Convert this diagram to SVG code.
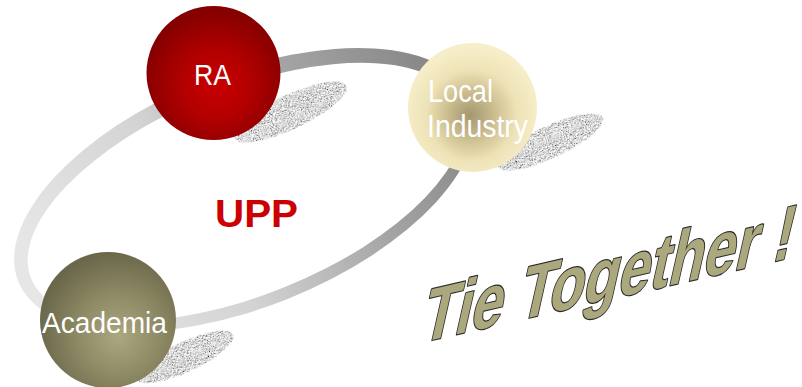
<svg xmlns="http://www.w3.org/2000/svg" width="802" height="387" viewBox="0 0 802 387">
<defs>
  <style>
    .lbl { font-family: "Liberation Sans", Arial, sans-serif; fill: #ffffff; }
    .shadow { fill: #000000; filter: url(#speckle); }
  </style>
  <linearGradient id="ringGrad" gradientUnits="userSpaceOnUse" x1="-213" y1="33" x2="230" y2="-47">
    <stop offset="0" stop-color="#e6e6e6"/>
    <stop offset="0.35" stop-color="#d4d4d4"/>
    <stop offset="0.7" stop-color="#a4a4a4"/>
    <stop offset="1" stop-color="#858585"/>
  </linearGradient>
  <radialGradient id="gRA" cx="0.52" cy="0.58" r="0.55" fx="0.52" fy="0.6">
    <stop offset="0" stop-color="#c80000"/>
    <stop offset="0.45" stop-color="#b30000"/>
    <stop offset="1" stop-color="#850000"/>
  </radialGradient>
  <radialGradient id="gLI" cx="0.5" cy="0.56" r="0.52" fx="0.48" fy="0.56">
    <stop offset="0" stop-color="#a49670"/>
    <stop offset="0.35" stop-color="#cbbd8e"/>
    <stop offset="0.68" stop-color="#eee3b7"/>
    <stop offset="1" stop-color="#f6eec8"/>
  </radialGradient>
  <radialGradient id="gAC" cx="0.58" cy="0.6" r="0.6" fx="0.58" fy="0.62">
    <stop offset="0" stop-color="#aba77f"/>
    <stop offset="0.5" stop-color="#8e8a65"/>
    <stop offset="1" stop-color="#6a674b"/>
  </radialGradient>
  <filter id="speckle" x="0" y="0" width="1" height="1">
    <feTurbulence type="fractalNoise" baseFrequency="0.95" numOctaves="2" seed="7" result="noise"/>
    <feColorMatrix in="noise" type="matrix" result="gray"
      values="2.6 0 0 0 -0.6  2.6 0 0 0 -0.6  2.6 0 0 0 -0.6  0 0 0 0 1"/>
    <feComposite in="gray" in2="SourceGraphic" operator="in"/>
  </filter>
</defs>
<rect width="802" height="387" fill="#ffffff"/>

<g id="connectors">
  <path transform="translate(245,190) rotate(-22)" fill="url(#ringGrad)" fill-rule="evenodd"
    d="M -244.5 0 A 244.5 117 0 1 0 244.5 0 A 244.5 117 0 1 0 -244.5 0 Z M -231.5 2 A 231.5 103 0 1 0 231.5 2 A 231.5 103 0 1 0 -231.5 2 Z"/>
</g>

<g id="shadows">
  <ellipse class="shadow" cx="290" cy="112" rx="62" ry="17" transform="rotate(-25 290 112)"/>
  <ellipse class="shadow" cx="550" cy="142" rx="58" ry="16" transform="rotate(-25 550 142)"/>
  <ellipse class="shadow" cx="185" cy="357" rx="53" ry="15" transform="rotate(-25 185 357)"/>
</g>

<g id="node-ra">
  <circle cx="213.5" cy="73" r="67" fill="url(#gRA)"/>
  <text class="lbl" x="194" y="85" font-size="30" textLength="37" lengthAdjust="spacingAndGlyphs">RA</text>
</g>

<g id="node-local-industry">
  <circle cx="472.5" cy="107.5" r="64.5" fill="url(#gLI)"/>
  <text class="lbl" x="428" y="102" font-size="31" textLength="65" lengthAdjust="spacingAndGlyphs">Local</text>
  <text class="lbl" x="427" y="137" font-size="31" textLength="101" lengthAdjust="spacingAndGlyphs">Industry</text>
</g>

<g id="node-academia">
  <circle cx="108" cy="320" r="68" fill="url(#gAC)"/>
  <text class="lbl" x="42" y="333" font-size="30" textLength="125" lengthAdjust="spacingAndGlyphs">Academia</text>
</g>

<g id="label-upp">
  <text x="215" y="227" font-family="Liberation Sans, Arial, sans-serif" font-weight="bold" font-size="38" fill="#cc0000" textLength="83" lengthAdjust="spacingAndGlyphs">UPP</text>
</g>

<g id="title">
  <text transform="matrix(0.975 -0.224 -0.22 0.976 419 343)" x="0" y="0" font-family="Liberation Sans, Arial, sans-serif" font-weight="bold" font-size="80" fill="#aca87e" stroke="#2a2a2a" stroke-width="2.4" paint-order="stroke" stroke-linejoin="round" textLength="380" lengthAdjust="spacingAndGlyphs">Tie Together !</text>
</g>
</svg>
